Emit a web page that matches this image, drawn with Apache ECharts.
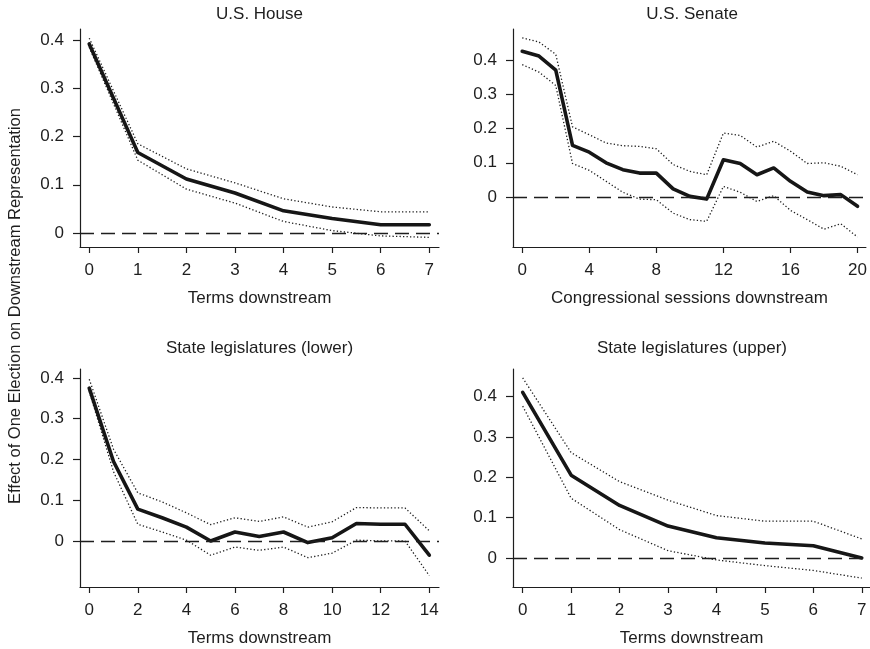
<!DOCTYPE html>
<html>
<head>
<meta charset="utf-8">
<script src="https://cdn.jsdelivr.net/npm/echarts@6/dist/echarts.min.js"></script>
<style>
  html, body { margin: 0; padding: 0; background: #fff; }
  #chart { width: 870px; height: 649px; }
</style>
</head>
<body>
<div id="chart"></div>
<script>
// U.S. House (terms downstream)
const houseX = [0, 1, 2, 3, 4, 5, 6, 7];
const houseEst = [0.392, 0.167, 0.112, 0.083, 0.046, 0.030, 0.017, 0.017];
const houseHi = [0.404, 0.185, 0.133, 0.104, 0.071, 0.054, 0.044, 0.044];
const houseLo = [0.385, 0.151, 0.091, 0.062, 0.024, 0.005, -0.006, -0.009];

// U.S. Senate (congressional sessions downstream)
const senateX = [0, 1, 2, 3, 4, 5, 6, 7, 8, 9, 10, 11, 12, 13, 14, 15, 16, 17, 18, 19, 20];
const senateEst = [0.426, 0.412, 0.371, 0.151, 0.131, 0.100, 0.080, 0.070, 0.070, 0.024, 0.002,
  -0.006, 0.109, 0.098, 0.065, 0.085, 0.046, 0.015, 0.004, 0.007, -0.027];
const senateHi = [0.465, 0.453, 0.417, 0.205, 0.182, 0.158, 0.150, 0.148, 0.141, 0.095, 0.075,
  0.065, 0.187, 0.180, 0.146, 0.163, 0.134, 0.098, 0.100, 0.090, 0.065];
const senateLo = [0.387, 0.365, 0.326, 0.098, 0.078, 0.046, 0.014, -0.006, -0.008, -0.047, -0.066,
  -0.071, 0.031, 0.014, -0.013, 0.004, -0.039, -0.066, -0.094, -0.078, -0.117];

// State legislatures (lower)
const lowerX = [0, 1, 2, 3, 4, 5, 6, 7, 8, 9, 10, 11, 12, 13, 14];
const lowerEst = [0.375, 0.195, 0.078, 0.057, 0.034, 0.0, 0.022, 0.011, 0.022, -0.004, 0.008, 0.043, 0.041, 0.041, -0.035];
const lowerHi = [0.397, 0.225, 0.118, 0.096, 0.069, 0.040, 0.057, 0.048, 0.059, 0.034, 0.047, 0.082, 0.081, 0.081, 0.025];
const lowerLo = [0.367, 0.170, 0.041, 0.022, 0.002, -0.035, -0.015, -0.023, -0.015, -0.041, -0.030, 0.002, 0.0, 0.0, -0.085];

// State legislatures (upper)
const upperX = [0, 1, 2, 3, 4, 5, 6, 7];
const upperEst = [0.410, 0.205, 0.130, 0.079, 0.050, 0.037, 0.030, 0.0];
const upperHi = [0.446, 0.261, 0.189, 0.143, 0.105, 0.091, 0.091, 0.047];
const upperLo = [0.376, 0.148, 0.070, 0.018, -0.005, -0.019, -0.031, -0.050];

// tick labels
const yTicks = [0, 0.1, 0.2, 0.3, 0.4];
const houseTicks = [0, 1, 2, 3, 4, 5, 6, 7];
const senateTicks = [0, 4, 8, 12, 16, 20];
const lowerTicks = [0, 2, 4, 6, 8, 10, 12, 14];
const upperTicks = [0, 1, 2, 3, 4, 5, 6, 7];

const ink = '#1e1e1e';
const fontFamily = '"Liberation Sans", Arial, sans-serif';
const fontSize = 17;

const panels = [
  { title: 'U.S. House', xName: 'Terms downstream', x: houseX, est: houseEst, hi: houseHi, lo: houseLo,
    xTicks: houseTicks, xMin: -0.19, xMax: 7.2, yMin: -0.029, yMax: 0.423, titleTop: 6,
    grid: { left: 80, top: 29, width: 359, height: 218 } },
  { title: 'U.S. Senate', xName: 'Congressional sessions downstream', x: senateX, est: senateEst, hi: senateHi, lo: senateLo,
    xTicks: senateTicks, xMin: -0.55, xMax: 20.5, yMin: -0.146, yMax: 0.491, titleTop: 6,
    grid: { left: 513, top: 29, width: 358, height: 218 } },
  { title: 'State legislatures (lower)', xName: 'Terms downstream', x: lowerX, est: lowerEst, hi: lowerHi, lo: lowerLo,
    xTicks: lowerTicks, xMin: -0.38, xMax: 14.4, yMin: -0.113, yMax: 0.422, titleTop: 340,
    grid: { left: 80, top: 369, width: 359, height: 218 } },
  { title: 'State legislatures (upper)', xName: 'Terms downstream', x: upperX, est: upperEst, hi: upperHi, lo: upperLo,
    xTicks: upperTicks, xMin: -0.2, xMax: 7.17, yMin: -0.072, yMax: 0.468, titleTop: 340,
    grid: { left: 513, top: 369, width: 358, height: 218 } }
];

const pairs = (xs, ys) => xs.map((x, i) => [x, ys[i]]);

const option = {
  animation: false,
  backgroundColor: '#fff',
  textStyle: { fontFamily: fontFamily },
  title: panels.map((p) => ({
    text: p.title,
    left: p.grid.left + p.grid.width / 2,
    top: p.titleTop,
    textAlign: 'center',
    padding: 0,
    textStyle: { fontSize: fontSize, fontWeight: 'normal', color: ink, fontFamily: fontFamily }
  })),
  grid: panels.map((p) => p.grid),
  xAxis: panels.map((p, i) => ({
    type: 'value',
    gridIndex: i,
    min: p.xMin,
    max: p.xMax,
    name: p.xName,
    nameLocation: 'middle',
    nameGap: 43,
    nameTextStyle: { fontSize: fontSize, color: ink, fontFamily: fontFamily },
    splitLine: { show: false },
    axisLine: { show: true, onZero: false, lineStyle: { color: ink, width: 1.2 } },
    axisTick: { show: true, length: 6, customValues: p.xTicks, lineStyle: { color: ink, width: 1.2 } },
    axisLabel: { customValues: p.xTicks, margin: 15, fontSize: fontSize, color: ink, fontFamily: fontFamily,
      showMinLabel: true, showMaxLabel: true }
  })),
  yAxis: panels.map((p, i) => ({
    type: 'value',
    gridIndex: i,
    min: p.yMin,
    max: p.yMax,
    splitLine: { show: false },
    axisLine: { show: true, onZero: false, lineStyle: { color: ink, width: 1.2 } },
    axisTick: { show: true, length: 7, customValues: yTicks, lineStyle: { color: ink, width: 1.2 } },
    axisLabel: { customValues: yTicks, margin: 16, fontSize: fontSize, color: ink, fontFamily: fontFamily,
      formatter: (v) => String(v) }
  })),
  series: [],
  graphic: [{
    type: 'text',
    x: 15,
    y: 306,
    rotation: Math.PI / 2,
    style: {
      text: 'Effect of One Election on Downstream Representation',
      fontSize: 16.5,
      fontFamily: fontFamily,
      fill: ink,
      textAlign: 'center',
      textVerticalAlign: 'middle'
    }
  }]
};

panels.forEach((p, i) => {
  const bound = (data) => ({
    type: 'line',
    xAxisIndex: i,
    yAxisIndex: i,
    data: pairs(p.x, data),
    showSymbol: false,
    silent: true,
    lineStyle: { color: ink, width: 1.3, type: [1.3, 2.2] },
    z: 2
  });
  option.series.push(bound(p.hi));
  option.series.push(bound(p.lo));
  option.series.push({
    type: 'line',
    xAxisIndex: i,
    yAxisIndex: i,
    data: pairs(p.x, p.est),
    showSymbol: false,
    silent: true,
    lineStyle: { color: '#161616', width: 3.6, cap: 'round', join: 'round' },
    z: 3,
    markLine: {
      silent: true,
      symbol: 'none',
      label: { show: false },
      lineStyle: { color: ink, width: 1.3, type: [14, 7] },
      data: [{ yAxis: 0 }]
    }
  });
});

const chart = echarts.init(document.getElementById('chart'), null, { renderer: 'canvas' });
chart.setOption(option);
</script>
</body>
</html>
